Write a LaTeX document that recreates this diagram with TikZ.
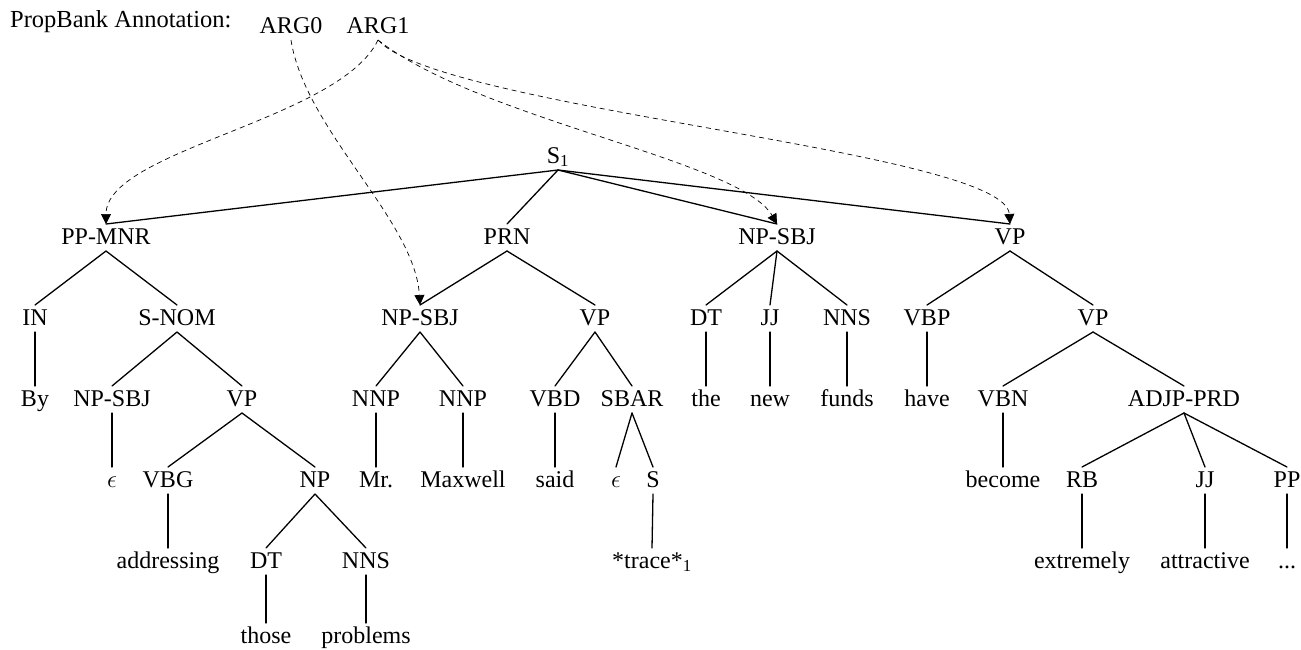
\documentclass[tikz,border=0pt]{standalone}
\usepackage{fontspec}
\setmainfont{Liberation Serif}
\usetikzlibrary{arrows.meta}
\tikzset{
  lbl/.style={anchor=base, inner sep=0pt, outer xsep=0pt, outer ysep=2pt,
    text height=18pt, text depth=5pt, font=\fontsize{24}{28}\selectfont},
  capt/.style={anchor=base west, inner sep=0pt, font=\fontsize{24.5}{28}\selectfont},
  tedge/.style={line width=1.3pt, line cap=round},
  argarrow/.style={line width=0.7pt, dash pattern=on 5pt off 4pt,
    -{Triangle[length=10pt,width=10pt]}}
}
\begin{document}
\begin{tikzpicture}[x=1pt,y=-1pt]
\useasboundingbox (0,0) rectangle (1301,649);
% caption and argument labels
\node[capt] (cap) at (10,27) {PropBank Annotation:};
\node[lbl] (arg0) at (291,33) {ARG0};
\node[lbl] (arg1) at (378,33) {ARG1};
% root
\node[lbl] (s1) at (558,163) {S\textsubscript{1}};
% row 2
\node[lbl] (ppmnr) at (106,244) {PP-MNR};
\node[lbl] (prn) at (507,244) {PRN};
\node[lbl] (npsbjB) at (777,244) {NP-SBJ};
\node[lbl] (vpD) at (1010,244) {VP};
% row 3
\node[lbl] (in) at (35,325) {IN};
\node[lbl] (snom) at (177,325) {S-NOM};
\node[lbl] (npsbjA) at (420,325) {NP-SBJ};
\node[lbl] (vpB) at (595,325) {VP};
\node[lbl] (dtB) at (706,325) {DT};
\node[lbl] (jjB) at (770,325) {JJ};
\node[lbl] (nnsB) at (847,325) {NNS};
\node[lbl] (vbp) at (927,325) {VBP};
\node[lbl] (vpE) at (1093,325) {VP};
% row 4
\node[lbl] (by) at (35,406) {By};
\node[lbl] (npsbjS) at (112,406) {NP-SBJ};
\node[lbl] (vpA) at (242,406) {VP};
\node[lbl] (nnp1) at (376,406) {NNP};
\node[lbl] (nnp2) at (463,406) {NNP};
\node[lbl] (vbd) at (555,406) {VBD};
\node[lbl] (sbar) at (632,406) {SBAR};
\node[lbl] (the) at (706,406) {the};
\node[lbl] (new) at (770,406) {new};
\node[lbl] (funds) at (847,406) {funds};
\node[lbl] (have) at (927,406) {have};
\node[lbl] (vbn) at (1003,406) {VBN};
\node[lbl] (adjp) at (1184,406) {ADJP-PRD};
% row 5
\node[lbl] (eps1) at (112,487) {$\epsilon$};
\node[lbl] (vbg) at (168,487) {VBG};
\node[lbl] (np) at (315,487) {NP};
\node[lbl] (mr) at (376,487) {Mr.};
\node[lbl] (maxwell) at (463,487) {Maxwell};
\node[lbl] (said) at (555,487) {said};
\node[lbl] (eps2) at (616,487) {$\epsilon$};
\node[lbl] (s) at (653,487) {S};
\node[lbl] (become) at (1003,487) {become};
\node[lbl] (rb) at (1082,487) {RB};
\node[lbl] (jj) at (1205,487) {JJ};
\node[lbl] (pp) at (1287,487) {PP};
% row 6
\node[lbl] (addressing) at (168,568) {addressing};
\node[lbl] (dt) at (266,568) {DT};
\node[lbl] (nns) at (366,568) {NNS};
\node[lbl] (trace) at (652,568) {*trace*\textsubscript{1}};
\node[lbl] (extremely) at (1082,568) {extremely};
\node[lbl] (attractive) at (1205,568) {attractive};
\node[lbl] (dots) at (1287,568) {...};
% row 7
\node[lbl] (those) at (266,643) {those};
\node[lbl] (problems) at (366,643) {problems};
% tree edges
\foreach \p/\c in {s1/ppmnr, s1/prn, s1/npsbjB, s1/vpD,
  ppmnr/in, ppmnr/snom, in/by, snom/npsbjS, snom/vpA, npsbjS/eps1,
  vpA/vbg, vpA/np, vbg/addressing, np/dt, np/nns, dt/those, nns/problems,
  prn/npsbjA, prn/vpB, npsbjA/nnp1, npsbjA/nnp2, nnp1/mr, nnp2/maxwell,
  vpB/vbd, vpB/sbar, vbd/said, sbar/eps2, sbar/s, s/trace,
  npsbjB/dtB, npsbjB/jjB, npsbjB/nnsB, dtB/the, jjB/new, nnsB/funds,
  vpD/vbp, vpD/vpE, vbp/have, vpE/vbn, vpE/adjp, vbn/become,
  adjp/rb, adjp/jj, adjp/pp, rb/extremely, jj/attractive, pp/dots}
  \draw[tedge] (\p.south) -- (\c.north);
% PropBank argument arrows
\draw[argarrow] (arg0.south) .. controls (305,130) and (415,220) .. (npsbjA.north);
\draw[argarrow] (arg1.south) .. controls (340,120) and (106,150) .. (ppmnr.north);
\draw[argarrow] (arg1.south) .. controls (480,120) and (740,160) .. (npsbjB.north);
\draw[argarrow] (arg1.south) .. controls (440,110) and (1005,150) .. (vpD.north);
\end{tikzpicture}
\end{document}
